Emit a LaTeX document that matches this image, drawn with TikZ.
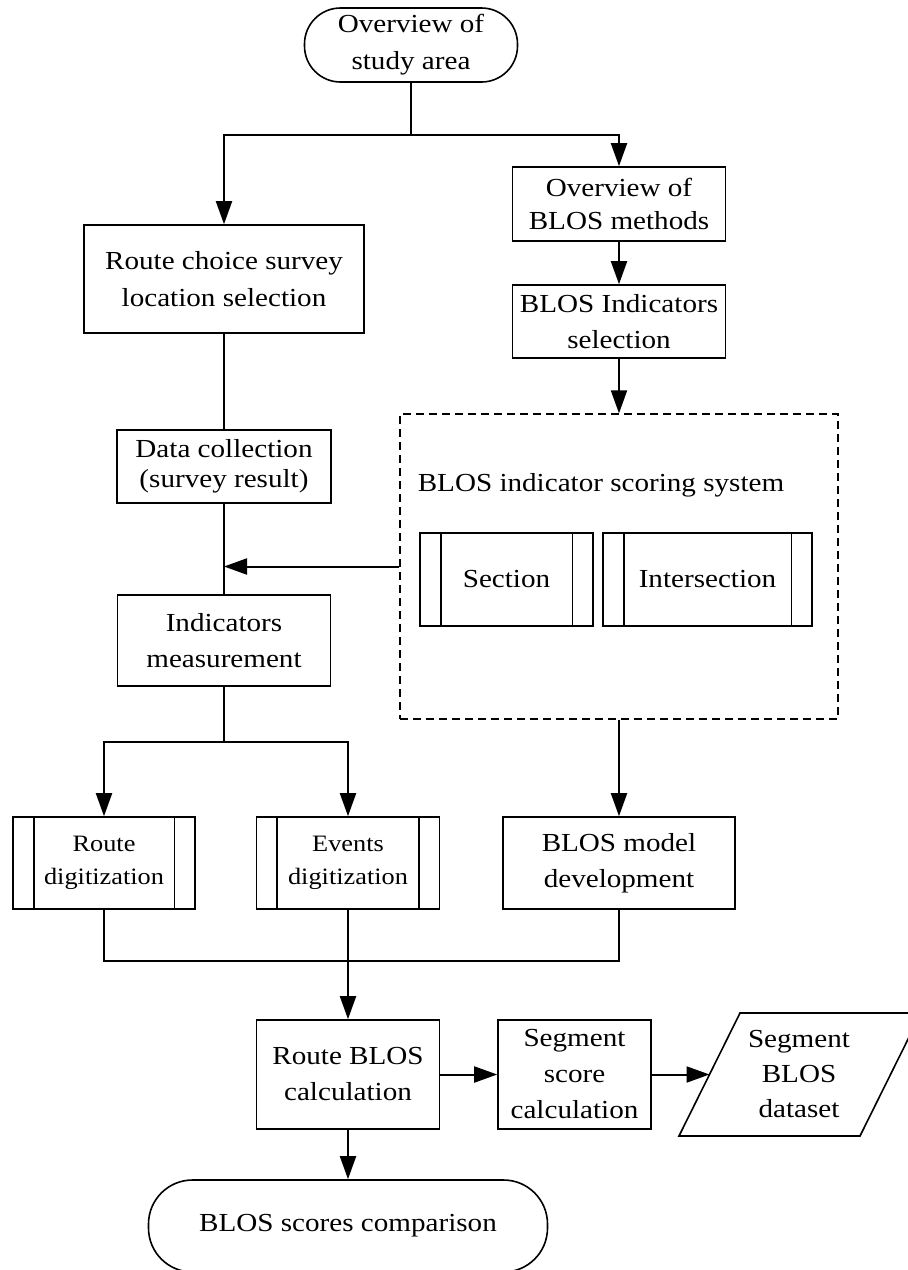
\documentclass[tikz,border=0pt]{standalone}
\usepackage{fontspec}
\setmainfont[FakeStretch=1.12]{Liberation Serif}
\usetikzlibrary{arrows.meta}
\newcommand\fsmain{\fontsize{26}{37}\selectfont}
\newcommand\fsdig{\fontsize{23.5}{33}\selectfont}
\begin{document}
\begin{tikzpicture}[x=1pt,y=-1pt,
  line width=1.6pt,
  box/.style={draw, rectangle, align=center, inner sep=1pt, font=\fsmain},
  term/.style={box},
  conn/.style={line width=2pt},
  arr/.style={conn, -{Triangle[length=23pt,width=16pt]}}]
\useasboundingbox (0,0) rectangle (908,1270);

% nodes
\node[term, minimum width=213pt, minimum height=74pt, rounded corners=36pt] (start) at (411,45) {Overview of\\study area};
\node[box, minimum width=280pt, minimum height=108pt] (rcs) at (224,279) {Route choice survey\\location selection};
\node[box, minimum width=213pt, minimum height=74pt, font=\fontsize{26}{33}\selectfont] (ovb) at (619,204) {Overview of\\BLOS methods};
\node[box, minimum width=213pt, minimum height=73pt, font=\fontsize{26}{36}\selectfont] (bis) at (619,321.5) {BLOS Indicators\\selection};
\node[draw, dash pattern=on 8pt off 5pt, line width=1.3pt, minimum width=438pt, minimum height=305pt] (scr) at (619,566.5) {};
\node[font=\fsmain] (scrt) at (601,485) {BLOS indicator scoring system};
\node[box, minimum width=173pt, minimum height=93pt] (sec) at (506.5,579.5) {Section};
\node[box, minimum width=209pt, minimum height=93pt] (inter) at (707.5,579.5) {Intersection};
\node[box, minimum width=214pt, minimum height=73pt, font=\fontsize{26}{30}\selectfont] (dc) at (224,466.5) {Data collection\\(survey result)};
\node[box, minimum width=213pt, minimum height=91pt, font=\fontsize{26}{36}\selectfont] (im) at (224,640.5) {Indicators\\measurement};
\node[box, minimum width=182pt, minimum height=92pt, font=\fsdig] (rd) at (104,863) {Route\\digitization};
\node[box, minimum width=183pt, minimum height=92pt, font=\fsdig] (ed) at (348,863) {Events\\digitization};
\node[box, minimum width=232pt, minimum height=92pt, font=\fontsize{26}{36}\selectfont] (bmd) at (619,863) {BLOS model\\development};
\node[box, minimum width=183pt, minimum height=109pt, font=\fontsize{26}{36}\selectfont] (rbc) at (348,1074.5) {Route BLOS\\calculation};
\node[box, minimum width=153pt, minimum height=109pt, font=\fontsize{26}{36}\selectfont] (ssc) at (574.5,1074.5) {Segment\\score\\calculation};
\draw (740,1013) -- (921,1013) -- (860,1136) -- (679,1136) -- cycle;
\node[align=center, font=\fontsize{26}{35}\selectfont] (sbd) at (799,1074.5) {Segment\\BLOS\\dataset};
\coordinate (sbdw) at (709.5,1074.5);
\node[term, minimum width=399pt, minimum height=92pt, rounded corners=44pt] (end) at (348,1226) {BLOS scores comparison};

% bars of predefined-process boxes
\foreach \n in {sec,inter,rd,ed} {
  \draw ([xshift=21.5pt]\n.north west) -- ([xshift=21.5pt]\n.south west);
  \draw ([xshift=-21.5pt]\n.north east) -- ([xshift=-21.5pt]\n.south east);
}

% junctions
\coordinate (j1) at (411,135);
\coordinate (j2) at (224,742);
\coordinate (j3) at (348,961);

% connectors
\draw[conn] (start.south) -- (j1);
\draw[arr] (j1) -| (rcs.north);
\draw[arr] (j1) -| (ovb.north);
\draw[arr] (ovb.south) -- (bis.north);
\draw[arr] (bis.south) -- (scr.north);
\draw[conn] (rcs.south) -- (dc.north);
\draw[conn] (dc.south) -- (im.north);
\draw[arr] (scr.west) -- (scr.west -| dc.south);
\draw[conn] (im.south) -- (j2);
\draw[arr] (j2) -| (rd.north);
\draw[arr] (j2) -| (ed.north);
\draw[arr] (scr.south) -- (bmd.north);
\draw[conn] (rd.south) |- (j3);
\draw[conn] (bmd.south) |- (j3);
\draw[arr] (ed.south) -- (rbc.north);
\draw[arr] (rbc.east) -- (ssc.west);
\draw[arr] (ssc.east) -- (sbdw);
\draw[arr] (rbc.south) -- (end.north);
\end{tikzpicture}
\end{document}
